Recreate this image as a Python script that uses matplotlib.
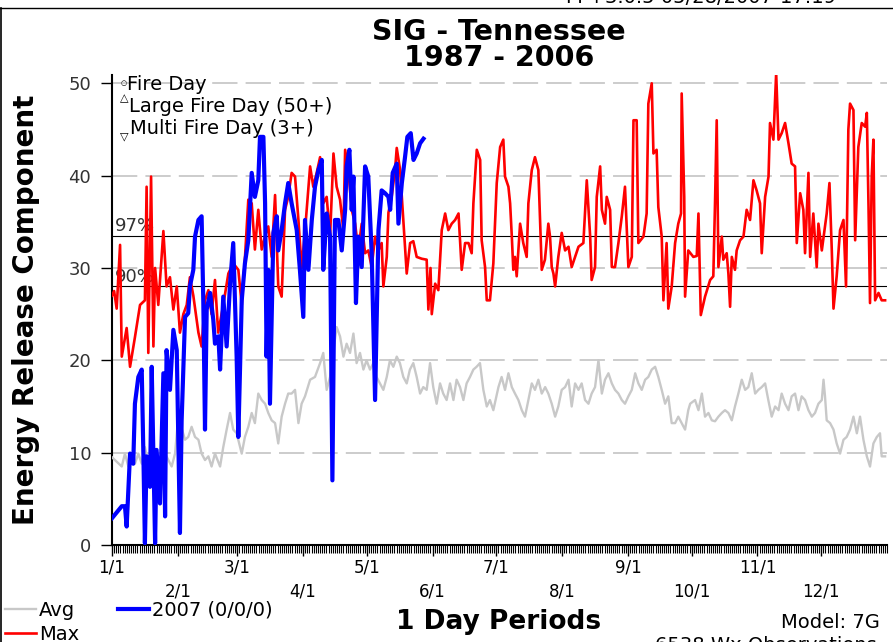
import numpy as np
import matplotlib
matplotlib.use("Agg")
import matplotlib.pyplot as plt
from matplotlib.lines import Line2D

# ---- data ----
max_day = [0, 1, 2.2, 3.8, 4.6, 6.9, 8.5, 10.8, 13.2, 15.5, 16.3, 17.1, 18.4, 19.5, 20.3, 21.8,
           24.2, 25.7, 27.3, 28.9, 30.5, 32, 33.6, 35.2, 36.7, 38.3, 40.7, 42.2, 43.8, 45.4, 46.9,
           48.5, 50, 52.4, 54.8, 57.1, 59.5, 61.1, 62.6, 64.2, 65.8, 67.3, 68.9, 70.5, 72, 73.6,
           75.2, 76.8, 78.3, 79.9, 81.5, 83, 84.6, 86.2, 87.8, 89.3, 90.9,
           93.3, 94.8, 96.4, 98, 99.5, 101.1, 102.7, 104.3, 105.8, 107.4, 109, 109.8, 111.3, 112.9,
           114.5, 116, 117.6, 119.2, 120.7, 122.3, 123.9, 125.5, 127, 127.8, 129.4, 130.2, 131.7,
           133.3, 134.1, 135.7, 137.2, 138.8, 140.4, 141.9, 143.5, 145.9, 148.2, 149, 150, 150.6,
           152.2, 153.7, 155.3, 156.9, 158.4, 160, 161.6, 163.2, 164.7, 166.3, 167.9, 169.4, 170.2,
           171.8, 173.4, 174.1, 175.7, 176.5, 178, 179.6, 181.2, 182.8,
           184.3, 185.1, 186.7, 187.5, 188.3, 189, 189.8, 190.6, 192.2, 193.7, 195.3, 196.1, 197.7,
           199.2, 200.8, 201.6, 202.4, 203.9, 205.5, 206.3, 207.1, 207.9, 208.7, 210.2, 211.8,
           213.4, 215, 216.5, 218.1, 219.7, 222, 223.6, 225.2, 225.9, 227.5, 228.3, 229.9, 230.7,
           232.2, 233, 234.6, 235.4, 236.9, 238.5, 240.1, 241.6, 243.2, 244.8, 245.6, 247.1, 247.9,
           250.3, 251.8, 252.6, 254.2, 255, 256.5, 257.3, 258.9, 259.7, 261.2, 262, 263.6, 265.2,
           266.7, 268, 268.3, 269.5, 269.9, 271.4, 273.8,
           275.4, 276.2, 277.3, 279.3, 281.7, 283.2, 284, 284.8, 285.6, 287.2, 287.9, 289.5, 290.3,
           291.1, 291.9, 293.4, 294.2, 295.8, 297.4, 298.9, 300.5, 302.1, 303.6, 305.2, 306, 307.6,
           309.2, 309.9, 311.5, 312.8, 313.9, 315.4, 317, 318.6, 320.1, 321.7, 322.5, 324.1, 325.6,
           326.4, 328, 328.8, 330.3, 331.9, 332.7, 334.3, 336.6, 337.9, 339, 339.8, 341.3, 342.9,
           344.5, 345.7, 346.8, 347.6, 349.2, 350, 351.5, 353.1, 354.7, 355.5, 356.3, 357, 357.8,
           358.6, 359.4, 361, 362.5, 364.1]
max_erc = [27, 27.5, 25.6, 32.5, 20.4, 23.5, 19.3, 22.5, 26, 26.5, 38.8, 20.8, 39.9, 21.5, 30, 26,
           34, 28, 29, 25.5, 28, 23, 25, 26, 29, 27, 23, 21.5, 26.5, 27.6, 25,
           28.7, 23, 26, 29.4, 30.5, 29.8, 26, 31, 37.4, 37, 32, 36.3, 32, 33.4, 34.5,
           31.2, 37.9, 28, 26.9, 36.3, 37.7, 40.3, 39.9, 35.2, 30, 34,
           41, 38.8, 40.3, 42, 37, 37.7, 33.4, 42.4, 38.8, 37.4, 34, 42.8, 40.6, 36.3,
           34.8, 31.9, 34.8, 31.6, 31.9, 30.1, 33.4, 31.9, 32.7, 28, 31.2, 36, 37.7,
           40.6, 43, 40.6, 35.2, 29.4, 32.7, 32.9, 31.2, 31, 30.9, 25.5, 30, 25,
           28.3, 27.6, 34.1, 35.9, 34.1, 34.8, 35.2, 35.9, 29.8, 32.7, 32.7, 31.6, 37,
           42.8, 41.7, 33, 30.1, 26.5, 26.5, 30.5, 39.2, 43.1,
           43.9, 39.9, 38.8, 37, 33.4, 29.8, 31.2, 29.1, 34.8, 32.7, 31.2, 37, 40.6,
           42, 40.6, 35.2, 29.8, 30.9, 34.8, 33.4, 30.1, 29.4, 28, 31.2, 33.8,
           31.9, 32.3, 30.1, 31.2, 32.3, 32.7, 39.5, 33.4, 28.7, 30.1, 37.7, 41, 36.3,
           34.8, 37.7, 36.3, 30.1, 30.1, 32.7, 35.6, 38.8, 30.1, 31.2, 46, 46, 32.7,
           33.4, 35.9, 47.8, 50, 42.4, 42.8, 36.6, 33.4, 26.5, 32.7, 25.6, 28, 32.7,
           34.8, 35.9, 48.9, 37.7, 26.9, 31.9, 31.2,
           31.3, 35.9, 24.9, 26.9, 28.7, 29.1, 37, 46, 30.1, 33.4, 30.9, 31.6, 29.4,
           25.8, 31.2, 29.8, 31.9, 33, 33.4, 36.3, 35.2, 39.5, 38.4, 37, 31.6, 37.7,
           39.9, 45.7, 43.9, 51.1, 43.9, 44.6, 45.7, 43.5, 41.3, 41, 32.7, 38.1, 36.3,
           31.6, 40.3, 31.2, 35.9, 30.1, 34.8, 31.9, 35.9, 39.2, 31.9, 25.6, 29.1, 34.1,
           35.2, 28, 45, 47.8, 47.1, 33, 43.1, 45.7, 45.3, 46.8, 36.6, 26.2, 39.9,
           43.9, 26.5, 27.3, 26.5, 26.5]

avg_day = [0, 4.6, 6.1, 7.7, 9.3, 10.8, 12.4, 14.0, 15.5, 17.1, 18.7, 21.8, 25.0, 28.1, 29.7, 31.2,
           34.4, 35.9, 37.5, 39.1, 40.7, 42.2, 43.8, 45.4, 46.9, 48.5, 50.9, 52.4, 54.0, 55.6, 57.1,
           58.7, 61.1, 62.6, 64.2, 65.8, 67.3, 68.9, 70.5, 72.1, 73.6, 75.2, 76.8, 78.3, 79.9, 81.5,
           83.0, 84.6, 86.2, 87.8, 89.3, 90.9,
           93.3, 95.6, 98.0, 99.5, 101.1, 102.7, 104.3, 105.8, 107.4, 109.0, 110.5, 112.1, 113.7,
           115.2, 116.8, 118.4, 119.9, 121.5, 123.1, 124.6, 126.2, 127.8, 129.4, 130.9, 132.5,
           134.1, 135.6, 137.2, 138.8, 140.3, 141.9, 143.5, 145.1, 146.6, 148.2, 149.8, 151.3,
           152.9, 154.5, 156.0, 157.6, 159.2, 160.8, 162.3, 163.9, 165.5, 167.0, 168.6, 170.2,
           171.7, 173.3, 174.9, 176.5, 178.0, 179.6,
           182.0, 183.5, 185.1, 186.7, 188.3, 189.8, 191.4, 193.0, 194.5, 196.1, 197.7, 199.2,
           200.8, 202.4, 204.0, 205.5, 207.1, 208.7, 210.2, 211.8, 213.4, 215.0, 216.5, 218.1,
           219.7, 221.2, 222.8, 224.4, 225.9, 227.5, 229.1, 230.7, 232.2, 233.8, 235.4, 236.9,
           238.5, 240.1, 241.6, 243.2, 244.8, 246.4, 247.9, 249.5, 251.1, 252.6, 254.2, 255.8,
           257.3, 258.9, 260.5, 262.0, 263.6, 265.2, 266.7, 268.3, 269.9, 271.4,
           272.3, 274.6, 276.2, 277.8, 279.3, 280.9, 282.5, 284.0, 285.6, 287.2, 288.7, 290.3,
           291.9, 293.4, 295.0, 296.6, 298.2, 299.7, 301.3, 302.9, 304.4, 306.0, 307.6, 309.1,
           310.7, 312.3, 313.9, 315.4, 317.0, 318.6, 320.1, 321.7, 323.3, 324.8, 326.4, 328.0,
           329.6, 331.1, 332.7, 334.3, 335.1, 335.8, 336.6, 338.2, 339.8, 341.3, 342.9, 344.5,
           346.0, 347.6, 349.2, 350.8, 352.3, 353.9, 355.5, 357.0, 358.6, 360.2, 361.7, 362.5, 364.1]
avg_erc = [9.5, 8.5, 9.9, 8.5, 9.6, 8.8, 9.9, 8.8, 10.6, 8.8, 9.9, 9.2, 9.9, 8.5, 9.9, 13.9,
           11.4, 11.7, 12.8, 11.7, 11.4, 9.9, 9.2, 9.6, 8.5, 9.9, 8.5, 10.6, 12.5, 14.3, 12.5,
           12.1, 9.9, 11.7, 12.8, 14.3, 13.2, 16.4, 15.7, 15.3, 14.3, 13.5, 13.2, 11, 13.9, 15.3,
           16.4, 16.4, 16.8, 13.2, 15.3, 16.1,
           17.9, 18.2, 19.7, 20.8, 16.8, 18.2, 21.1, 23.6, 22.6, 20.4, 21.8, 20.8, 22.9,
           19.7, 20.8, 19, 20, 19, 19.7, 18.2, 17.5, 16.8, 18.2, 20, 19.3,
           20.4, 19.7, 18.2, 17.5, 19, 19.7, 18.2, 16.4, 17.1, 16.8, 19.7, 17.1,
           15.3, 17.5, 16.4, 15.7, 17.5, 15.7, 17.9, 17.1, 15.7, 17.5, 18.2, 19,
           19.3, 19.7, 16.8, 15, 15.7, 14.6,
           17.1, 18.2, 16.8, 18.6, 17.1, 16.4, 15.7, 14.6, 13.9, 15.7, 17.5, 16.8,
           17.9, 16.4, 17.1, 16.4, 15.3, 13.9, 15, 16.8, 17.1, 17.9, 15, 17.5,
           16.8, 17.5, 15.7, 15.3, 16.4, 17.1, 20, 16.4, 17.9, 18.6, 17.5, 16.8,
           16.4, 15.7, 15.3, 16.1, 16.8, 18.6, 17.5, 16.8, 17.9, 18.2, 19, 19.3,
           18.2, 16.8, 15.3, 16.1, 13.2, 13.2, 13.9, 13.2, 12.5, 14.6,
           15.3, 15.7, 14.6, 16.4, 13.9, 14.3, 13.5, 13.4, 13.9, 14.3, 14.6, 14.3,
           13.5, 15, 16.4, 17.9, 16.8, 17.1, 18.6, 16.4, 16.8, 17.1, 17.5, 15.7,
           13.9, 15, 14.6, 16.4, 15.3, 14.6, 16.1, 16.4, 14.6, 16.1, 15.7, 14.6,
           13.9, 14.3, 15.3, 15.7, 17.9, 16.1, 13.5, 13.2, 12.5, 11, 9.9, 11.4,
           11.7, 12.5, 13.9, 12.1, 13.9, 11.4, 9.6, 8.5, 11, 11.7, 12.1, 9.6, 9.6]

y2007_day = [0, 4.6, 6.1, 6.9, 8.5, 10, 10.8, 12.4, 14, 14.8, 15.5, 16.3, 17.1, 17.9, 18.7, 19.5,
             20.3, 21, 22.6, 24.2, 25, 25.7, 27.3, 28.9, 30.5, 32, 32.8, 34.4, 35.9, 36.7, 38.3,
             39.1, 40.7, 42.2, 43, 43.8, 44.6, 46.2, 47.7, 48.5, 50.1, 50.9, 52.4, 54, 55.6, 57.1,
             58.7, 59.5, 61.1, 62.6, 64.2, 65.8, 67.3, 68.9, 69.7, 71.3, 72.1, 72.8, 73.6, 74.4,
             76, 77.6, 78.3, 79.9, 81.5, 83, 84.6, 87, 88.5, 90.1, 90.9, 92.5, 94.1, 95.6, 97.2,
             98.8, 99.5, 101.1, 102.7, 103.8, 105, 106.6, 108.2, 109.8, 110.5, 111.8, 112.9,
             113.7, 114.9, 116, 117.6, 119.2, 120.7, 122.3, 123.9, 125.5, 127, 128.6, 130.2,
             131, 132.2, 134.1, 134.9, 136.5, 138, 139.1, 140.7, 142, 143.5, 145.1, 146.7]
y2007_erc = [2.9, 4.2, 4.2, 2.0, 9.9, 8.8, 15.3, 18.2, 19, 9.6, 0.2, 9.6, 8.1, 6.3, 19.3, 9.6,
             0.2, 10.3, 4.5, 18.6, 3.1, 21.1, 16.8, 23.3, 21.1, 1.3, 13.5, 24.7, 25.1, 28, 29.8,
             33.4, 35.2, 35.6, 26.4, 12.5, 25.5, 27.3, 24.4, 21.8, 22.6, 19, 26.9, 21.5, 28.3, 32.7,
             20.4, 11.7, 26.5, 30.5, 33, 40.3, 37.7, 39.5, 44.2, 44.2, 37, 20.4, 29.8, 15.3,
             33.8, 35.6, 31.9, 34.1, 37, 39.2, 37, 34.1, 29.8, 24.7, 35.2, 29.8, 35.2, 38.8, 40.6,
             41.7, 29.8, 35.9, 33.4, 7.0, 35.2, 35.2, 31.9, 36.3, 41, 42.8, 36.3,
             39.9, 26.2, 33.4, 30.1, 41, 39.9, 31.6, 15.7, 34.1, 38.4, 38.1, 37.7,
             36.3, 40.3, 41.3, 34.8, 39.2, 42, 44.2, 44.6, 41.7, 42.4, 43.5, 44]

pct97 = 33.5
pct90 = 28.0
month_start = [0, 31, 59, 90, 120, 151, 181, 212, 243, 273, 304, 334]
month_labels = ['1/1', '2/1', '3/1', '4/1', '5/1', '6/1', '7/1', '8/1', '9/1', '10/1', '11/1', '12/1']

W, H = 893, 642
fig = plt.figure(figsize=(W / 100, H / 100), dpi=100)
ax = fig.add_axes([112 / W, 97 / H, 775 / W, 470 / H])

l_avg, = ax.plot(avg_day, avg_erc, color='#c8c8c8', lw=1.7, label='Avg', zorder=3)
l_max, = ax.plot(max_day, max_erc, color='#ff0000', lw=1.9, label='Max', zorder=4)
l_cur, = ax.plot(y2007_day, y2007_erc, color='#0000ff', lw=3.0, label='2007 (0/0/0)', zorder=5)

ax.axhline(pct97, color='black', lw=0.8, zorder=2)
ax.axhline(pct90, color='black', lw=0.8, zorder=2)
ax.text(1.2, pct97 + 0.1, '97%', fontsize=13, color='#333333', va='bottom', zorder=2)
ax.text(1.2, pct90 + 0.1, '90%', fontsize=13, color='#333333', va='bottom', zorder=2)

ax.set_xlim(0, 365)
ax.set_ylim(0, 50.9)
ax.set_yticks([0, 10, 20, 30, 40, 50])
for v in [10, 20, 30, 40, 50]:
    ax.axhline(v, color='#c8c8c8', lw=1.3, dashes=(14, 4.5), zorder=1)

ax.set_xticks(month_start)
ax.set_xticklabels([lab if i % 2 == 0 else '\n' + lab for i, lab in enumerate(month_labels)])
ax.set_xticks(np.arange(0, 366), minor=True)
ax.tick_params(axis='x', which='major', length=8, width=1, pad=2, labelsize=12)
ax.tick_params(axis='x', which='minor', length=6, width=0.8)
ax.tick_params(axis='y', length=8, width=1, pad=7, labelsize=13, labelcolor='#333333')
for t in ax.get_xticklabels():
    t.set_linespacing(1.4)

for s in ['top', 'right']:
    ax.spines[s].set_visible(False)
for s in ['left', 'bottom']:
    ax.spines[s].set_linewidth(1.5)

ax.set_ylabel('Energy Release Component', fontsize=20, fontweight='bold')
ax.yaxis.set_label_coords(-72 / 775, 0.5)

# fire-day key in upper left
ax.text(0.011, 0.983, '\u25cb', fontsize=5, transform=ax.transAxes, va='center')
ax.text(0.019, 0.979, 'Fire Day', fontsize=14, transform=ax.transAxes, va='center')
ax.text(0.010, 0.950, '\u25b3', fontsize=8, transform=ax.transAxes, va='center')
ax.text(0.022, 0.932, 'Large Fire Day (50+)', fontsize=14, transform=ax.transAxes, va='center')
ax.text(0.010, 0.870, '\u25bd', fontsize=8, transform=ax.transAxes, va='center')
ax.text(0.023, 0.886, 'Multi Fire Day (3+)', fontsize=14, transform=ax.transAxes, va='center')

# titles and labels
fig.text(499 / W, 1 - 32 / H, 'SIG - Tennessee', fontsize=20.5, fontweight='bold', ha='center', va='center')
fig.text(499 / W, 1 - 58 / H, '1987 - 2006', fontsize=20.5, fontweight='bold', ha='center', va='center')
fig.text(499 / W, 1 - 622 / H, '1 Day Periods', fontsize=19, fontweight='bold', ha='center', va='center')
fig.text(880 / W, 1 - 622 / H, 'Model: 7G', fontsize=14, ha='right', va='center')
fig.text(655 / W, 1 - 636 / H, '6538 Wx Observations', fontsize=14, ha='left', va='top')
fig.text(566 / W, 1 - 7 / H, 'FF+3.0.5 05/28/2007-17:19', fontsize=14, ha='left', va='bottom')

fig.add_artist(Line2D([0, 1], [1 - 8 / H, 1 - 8 / H], color='black', lw=1, transform=fig.transFigure))
fig.add_artist(Line2D([1 / W, 1 / W], [0, 1 - 8 / H], color='black', lw=1.2, transform=fig.transFigure))

fig.legend(handles=[l_avg, l_max, l_cur], ncol=2, loc='upper left',
           bbox_to_anchor=(5 / W, 1 - 601 / H), frameon=False, fontsize=14,
           handlelength=1.6, handletextpad=0.15, columnspacing=2.0,
           labelspacing=0.25, borderpad=0, borderaxespad=0)

fig.savefig('out.png', dpi=100)
